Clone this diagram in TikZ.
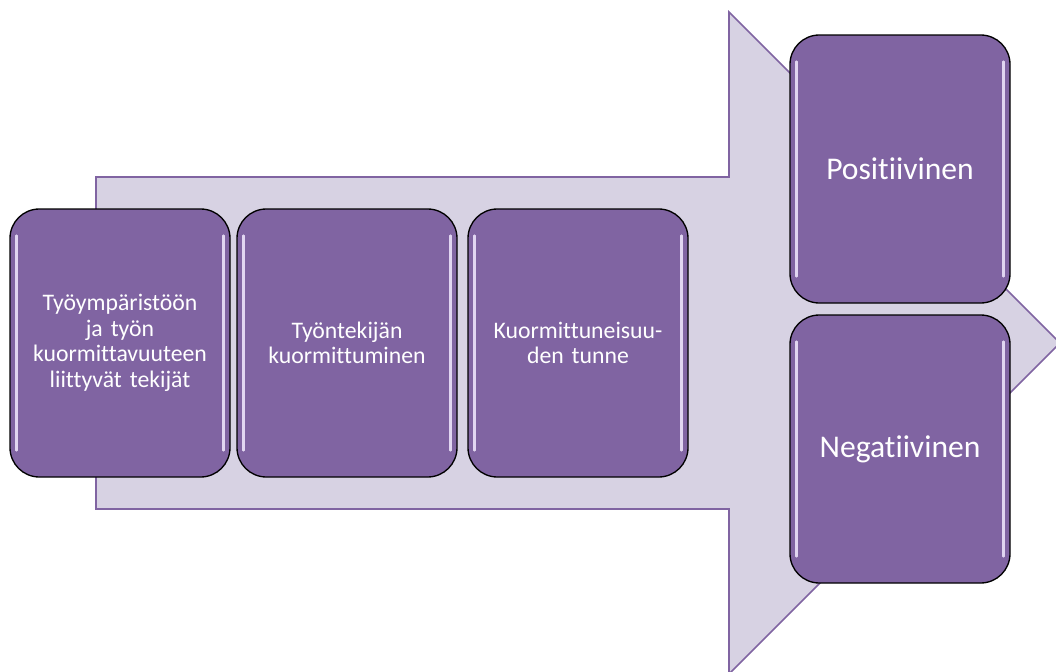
\documentclass[tikz,border=0pt]{standalone}
\usepackage{fontspec}
\setmainfont[Ligatures=NoCommon]{Carlito}
\usepackage{xcolor}
\definecolor{boxPurple}{RGB}{128,100,162}
\definecolor{arrowFill}{RGB}{215,210,227}
\definecolor{glossLight}{RGB}{242,234,255}

\tikzset{
  stagebox/.style={draw=black, line width=1pt, fill=boxPurple, rounded corners=22pt,
    minimum width=165pt, minimum height=201pt, text width=150pt, align=center, text=white,
    font=\fontsize{17.8}{19.2}\selectfont,
    path picture={
      \draw [glossLight, line width=2pt, line cap=round, opacity=0.85]
        ([xshift=5pt,yshift=-20pt]path picture bounding box.north west) -- ([xshift=5pt,yshift=20pt]path picture bounding box.south west)
        ([xshift=-5pt,yshift=-20pt]path picture bounding box.north east) -- ([xshift=-5pt,yshift=20pt]path picture bounding box.south east);
    }},
  outcomebox/.style={stagebox, minimum height=201pt, font=\fontsize{23.7}{26}\selectfont},
}

\begin{document}
\begin{tikzpicture}[x=0.75pt,y=0.75pt,yscale=-1,xscale=1]
\useasboundingbox (0,0) rectangle (1056,671);

%Shape: Big arrow 
\draw [draw=boxPurple, fill=arrowFill, line width=1.2pt, line join=miter]
  (96,177) -- (729,177) -- (729,12) -- (1060,343) -- (729,674) -- (729,509) -- (96,509) -- cycle ;

% Text Node
\draw (120,343) node [stagebox] (factors) {Työympäristöön\\ja työn\\kuormittavuuteen\\liittyvät tekijät};
% Text Node
\draw (347,343) node [stagebox] (strain) {Työntekijän\\kuormittuminen};
% Text Node
\draw (578,343) node [stagebox] (feeling) {Kuormittuneisuu-\\den tunne};
% Text Node
\draw (900,169) node [outcomebox] (positive) {Positiivinen};
% Text Node
\draw (900,449) node [outcomebox] (negative) {Negatiivinen};

\end{tikzpicture}
\end{document}
